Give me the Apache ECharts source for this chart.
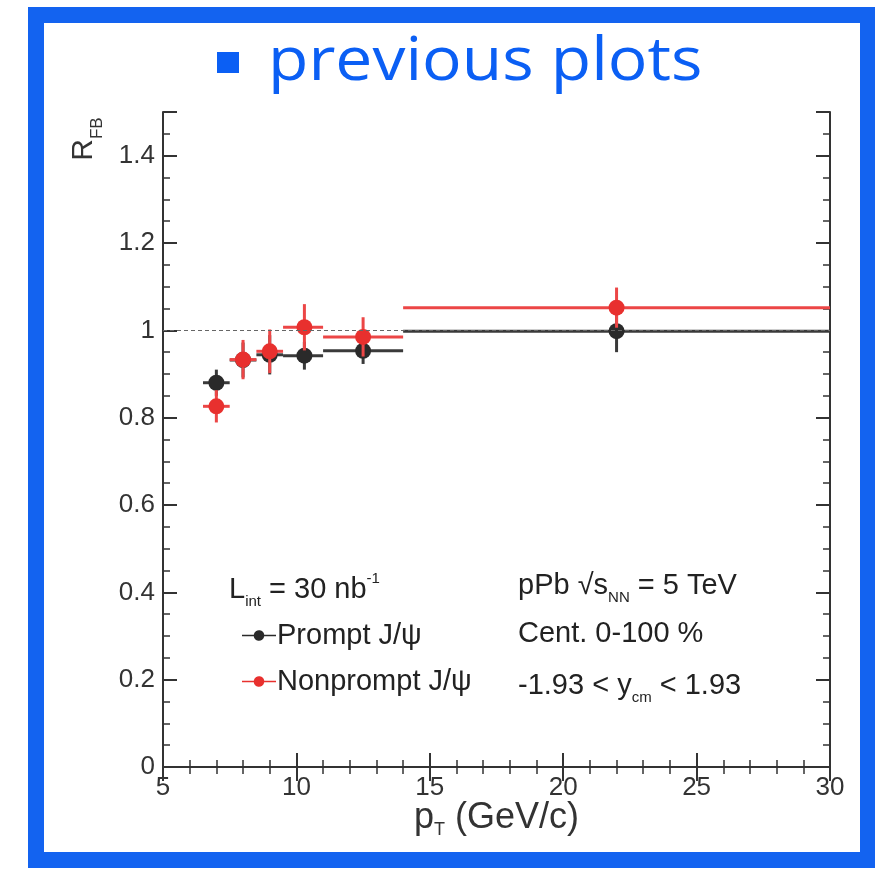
<!DOCTYPE html>
<html>
<head>
<meta charset="utf-8">
<script src="https://cdn.jsdelivr.net/npm/echarts@6/dist/echarts.min.js"></script>
<style>
  html, body { margin: 0; padding: 0; background: #fff; }
  #chart { width: 875px; height: 869px; }
</style>
</head>
<body>
<div id="chart"></div>
<script>
// pT bins (GeV/c)
const ptCenter = [7, 8, 9, 10.3, 12.5, 22];
const binLow = [6.5, 7.5, 8.5, 9.5, 11, 14];
const binHigh = [7.5, 8.5, 9.5, 11, 14, 30];
// R_FB values
const rPrompt = [0.88, 0.932, 0.944, 0.942, 0.953, 0.998];
const errPrompt = [0.03, 0.04, 0.045, 0.032, 0.03, 0.048];
const rNonprompt = [0.826, 0.933, 0.952, 1.007, 0.985, 1.052];
const errNonprompt = [0.037, 0.045, 0.05, 0.053, 0.045, 0.046];

const xTicks = [5, 10, 15, 20, 25, 30];
const yTicks = [0, 0.2, 0.4, 0.6, 0.8, 1, 1.2, 1.4];

const FONT = '"Liberation Sans", Arial, sans-serif';
const BLACK = '#2a2a2a';
const RED = '#e8302e';

const toData = (r, e) =>
    ptCenter.map((x, i) => [x, r[i], binLow[i], binHigh[i], e[i]]);

// error bar + marker
const errRender = (color, barColor) => (params, api) => {
    const c = api.coord([api.value(0), api.value(1)]);
    const l = api.coord([api.value(2), api.value(1)]);
    const h = api.coord([api.value(3), api.value(1)]);
    const lo = api.coord([api.value(0), api.value(1) - api.value(4)]);
    const hi = api.coord([api.value(0), api.value(1) + api.value(4)]);
    const ls = { stroke: barColor, lineWidth: 3 };
    return {
        type: "group",
        children: [
            { type: "line", shape: { x1: l[0], y1: l[1], x2: h[0], y2: h[1] }, style: ls },
            { type: "line", shape: { x1: lo[0], y1: lo[1], x2: hi[0], y2: hi[1] }, style: ls },
            { type: "circle", shape: { cx: c[0], cy: c[1], r: 8 }, style: { fill: color } },
        ],
    };
};

const legendIcon =
    "path://M0,4.2H11.06A5,5 0 0 1 20.94,4.2H32V5.8H20.94A5,5 0 0 1 11.06,5.8H0Z";

const axisCommon = {
    axisLine: { lineStyle: { color: "#333", width: 2 } },
    axisTick: { inside: true, length: 14, lineStyle: { color: "#333", width: 2 } },
    minorTick: { show: true, length: 7, lineStyle: { color: "#333", width: 1.5 } },
    splitLine: { show: false },
};

const txt = (size) => ({ fontFamily: FONT, fontSize: size, fill: "#222" });

const chart = echarts.init(document.getElementById("chart"));

const option = {
    backgroundColor: "#fff",
    animation: false,
    grid: { left: 163, right: 45, top: 112, bottom: 102 },
    xAxis: [
        {
            type: "value", min: xTicks[0], max: xTicks[xTicks.length - 1], interval: 5,
            ...axisCommon,
            minorTick: { ...axisCommon.minorTick, splitNumber: 5 },
            axisLabel: { fontFamily: FONT, fontSize: 26, color: "#333", margin: 8 },
            name: "{m|p}{s|T}{m| (GeV/c)}",
            nameLocation: "middle",
            nameGap: 30,
            nameMoveOverlap: false,
            nameTextStyle: {
                rich: {
                    m: { fontFamily: FONT, fontSize: 36, color: "#333", lineHeight: 42 },
                    s: { fontFamily: FONT, fontSize: 18, color: "#333", lineHeight: 18, verticalAlign: "bottom" },
                },
            },
        },
        {
            type: "value", position: "top", min: xTicks[0], max: xTicks[xTicks.length - 1], interval: 5,
            ...axisCommon,
            minorTick: { ...axisCommon.minorTick, splitNumber: 5 },
            axisLabel: { show: false },
        },
    ],
    yAxis: [
        {
            type: "value", min: yTicks[0], max: 1.5, interval: 0.2,
            ...axisCommon,
            minorTick: { ...axisCommon.minorTick, splitNumber: 4 },
            axisLabel: { fontFamily: FONT, fontSize: 26, color: "#333", margin: 8, showMaxLabel: false },
        },
        {
            type: "value", position: "right", min: yTicks[0], max: 1.5, interval: 0.2,
            ...axisCommon,
            minorTick: { ...axisCommon.minorTick, splitNumber: 4 },
            axisLabel: { show: false },
        },
    ],
    legend: {
        orient: "vertical",
        left: 237,
        top: 616,
        itemGap: 17,
        itemWidth: 34,
        itemHeight: 11,
        textStyle: { fontFamily: FONT, fontSize: 29, color: "#222", padding: [0, 0, 0, -4] },
        data: [
            { name: "Prompt J/ψ", icon: legendIcon },
            { name: "Nonprompt J/ψ", icon: legendIcon },
        ],
    },
    series: [
        {
            name: "Prompt J/ψ",
            type: "custom",
            itemStyle: { color: BLACK },
            renderItem: errRender(BLACK, "#3a3a3a"),
            data: toData(rPrompt, errPrompt),
            markLine: {
                silent: true,
                symbol: "none",
                label: { show: false },
                lineStyle: { color: "#666", width: 1, type: [4, 3] },
                data: [{ yAxis: 1 }],
            },
            z: 3,
        },
        {
            name: "Nonprompt J/ψ",
            type: "custom",
            itemStyle: { color: RED },
            renderItem: errRender(RED, "#ec4646"),
            data: toData(rNonprompt, errNonprompt),
            z: 4,
        },
    ],
    graphic: [
        // slide frame
        {
            type: "rect", shape: { x: 36, y: 15, width: 832, height: 845 },
            style: { fill: "none", stroke: "#1363f0", lineWidth: 16 },
        },
        // slide bullet + title
        { type: "rect", shape: { x: 217, y: 52, width: 22, height: 21 }, style: { fill: "#0b5ff4" } },
        {
            type: "text", x: 268, y: 63, scaleX: 1.1,
            style: {
                text: "previous plots", fill: "#0b5ff4",
                font: '60px "Open Sans", sans-serif', verticalAlign: "middle",
            },
        },
        // y axis title
        {
            type: "text", x: 84, y: 139, rotation: Math.PI / 2,
            style: {
                text: "{m|R}{s|FB}", align: "center", verticalAlign: "middle",
                rich: {
                    m: { ...txt(30), fill: "#333", lineHeight: 44 },
                    s: { ...txt(17), fill: "#333", lineHeight: 17, verticalAlign: "bottom" },
                },
            },
        },
        // annotations
        {
            type: "text", x: 229, y: 590,
            style: {
                text: "{m|L}{s|int}{m| = 30 nb}{p|-1}", verticalAlign: "middle",
                rich: {
                    m: { ...txt(29), lineHeight: 38 },
                    s: { ...txt(15), lineHeight: 15, verticalAlign: "bottom" },
                    p: { ...txt(15), lineHeight: 15, verticalAlign: "top" },
                },
            },
        },
        {
            type: "text", x: 518, y: 586,
            style: {
                text: "{m|pPb √s}{s|NN}{m| = 5 TeV}", verticalAlign: "middle",
                rich: {
                    m: { ...txt(29), lineHeight: 38 },
                    s: { ...txt(15), lineHeight: 15, verticalAlign: "bottom" },
                },
            },
        },
        {
            type: "text", x: 518, y: 634,
            style: { text: "Cent. 0-100 %", ...txt(29), verticalAlign: "middle" },
        },
        {
            type: "text", x: 518, y: 686,
            style: {
                text: "{m|-1.93 < y}{s|cm}{m| < 1.93}", verticalAlign: "middle",
                rich: {
                    m: { ...txt(29), lineHeight: 38 },
                    s: { ...txt(15), lineHeight: 15, verticalAlign: "bottom" },
                },
            },
        },
    ],
};

chart.setOption(option);
</script>
</body>
</html>
